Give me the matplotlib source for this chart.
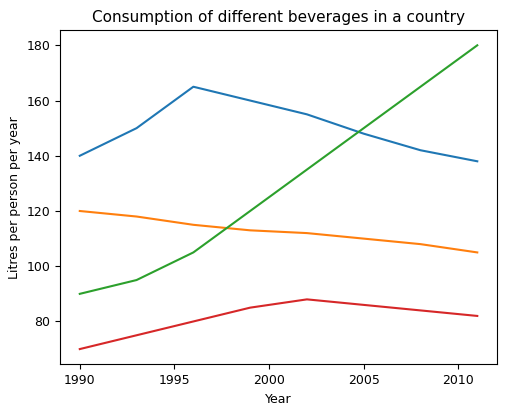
import matplotlib.pyplot as plt

years = [1990, 1993, 1996, 1999, 2002, 2005, 2008, 2011]
blue = [140, 150, 165, 160, 155, 148, 142, 138]
orange = [120, 118, 115, 113, 112, 110, 108, 105]
green = [90, 95, 105, 120, 135, 150, 165, 180]
red = [70, 75, 80, 85, 88, 86, 84, 82]

fig, ax = plt.subplots(figsize=(5.12, 4.07), dpi=100)
for s in (blue, orange, green, red):
    ax.plot(years, s)
ax.set_title("Consumption of different beverages in a country", fontsize=11)
ax.set_xlabel("Year", fontsize=9)
ax.set_ylabel("Litres per person per year", fontsize=9)
ax.tick_params(labelsize=9)
ax.set_xticks([1990, 1995, 2000, 2005, 2010])
plt.subplots_adjust(left=0.117, right=0.971, top=0.926, bottom=0.105)
fig.savefig("out.png")
